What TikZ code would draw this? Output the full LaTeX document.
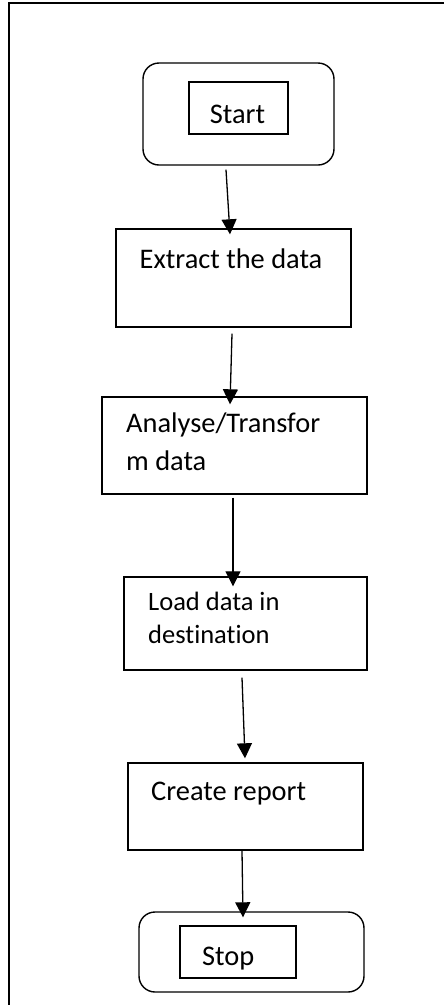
\documentclass[tikz,border=0pt]{standalone}
\usepackage{fontspec}
\setmainfont{Carlito}[Ligatures=NoCommon]
\usetikzlibrary{arrows.meta}
\tikzset{
  box/.style={draw, line width=1.4pt, inner sep=0pt, rectangle},
  term/.style={draw, line width=1.4pt, inner sep=0pt, rounded corners=16pt},
  lbl/.style={inner sep=0pt, font=\fontsize{28.4pt}{34pt}\selectfont},
  lbls/.style={inner sep=0pt, font=\fontsize{26.5pt}{32pt}\selectfont},
  arr/.style={line width=1.3pt, -{Triangle[width=15pt,length=15pt]}},
  frame/.style={line width=1.6pt}
}
\begin{document}
\begin{tikzpicture}[x=1pt,y=-1pt]
\useasboundingbox (0,0) rectangle (444,1005);
\coordinate (fbl) at (9,1006);
\coordinate (ftl) at (9,3);
\coordinate (ftr) at (445,3);
\draw[frame] (fbl) -- (ftl) -- (ftr);

% Start
\node[term, minimum width=191pt, minimum height=102pt] (s) at (238.5,114) {};
\node[box, minimum width=99pt, minimum height=52pt] (si) at (238.5,108) {};
\node[lbl, anchor=base] (st) at (237.5,123) {Start};

% Extract
\node[box, minimum width=235pt, minimum height=98pt] (e) at (233.5,278) {};
\node[lbl, anchor=base] (et) at (231,268) {Extract the data};

% Analyse
\node[box, minimum width=265pt, minimum height=97pt] (a) at (234.5,445.5) {};
\node[lbl, anchor=base west] (at1) at (126,432) {Analyse/Transfor};
\node[lbl, anchor=base west] (at2) at (126,470) {m data};

% Load
\node[box, minimum width=243pt, minimum height=93pt] (l) at (245.5,623.5) {};
\node[lbls, anchor=base west] (lt1) at (148,610) {Load data in};
\node[lbls, anchor=base west] (lt2) at (148,643) {destination};

% Create
\node[box, minimum width=235pt, minimum height=87pt] (c) at (245.5,806.5) {};
\node[lbl, anchor=base west] (ct) at (151,800) {Create report};

% Stop
\node[term, minimum width=225pt, minimum height=80pt] (so) at (251.5,952) {};
\node[box, minimum width=116pt, minimum height=52pt] (soi) at (238,952) {};
\node[lbl, anchor=base west] (sot) at (202,965) {Stop};

% arrows
\draw[arr] ([xshift=-12.5pt,yshift=-4pt]s.south) -- ([xshift=-3.5pt,yshift=-6pt]e.north);
\draw[arr] ([xshift=-1.5pt,yshift=-6pt]e.south) -- ([xshift=-4.5pt,yshift=-8pt]a.north);
\draw[arr] ([xshift=-1.5pt,yshift=-3pt]a.south) -- ([xshift=-12.5pt,yshift=-10pt]l.north);
\draw[arr] ([xshift=-3.5pt,yshift=-7pt]l.south) -- ([xshift=-0.5pt,yshift=4pt]c.north);
\draw[arr] ([xshift=-3.5pt]c.south) -- ([xshift=-8.5pt,yshift=-6pt]so.north);
\end{tikzpicture}
\end{document}
